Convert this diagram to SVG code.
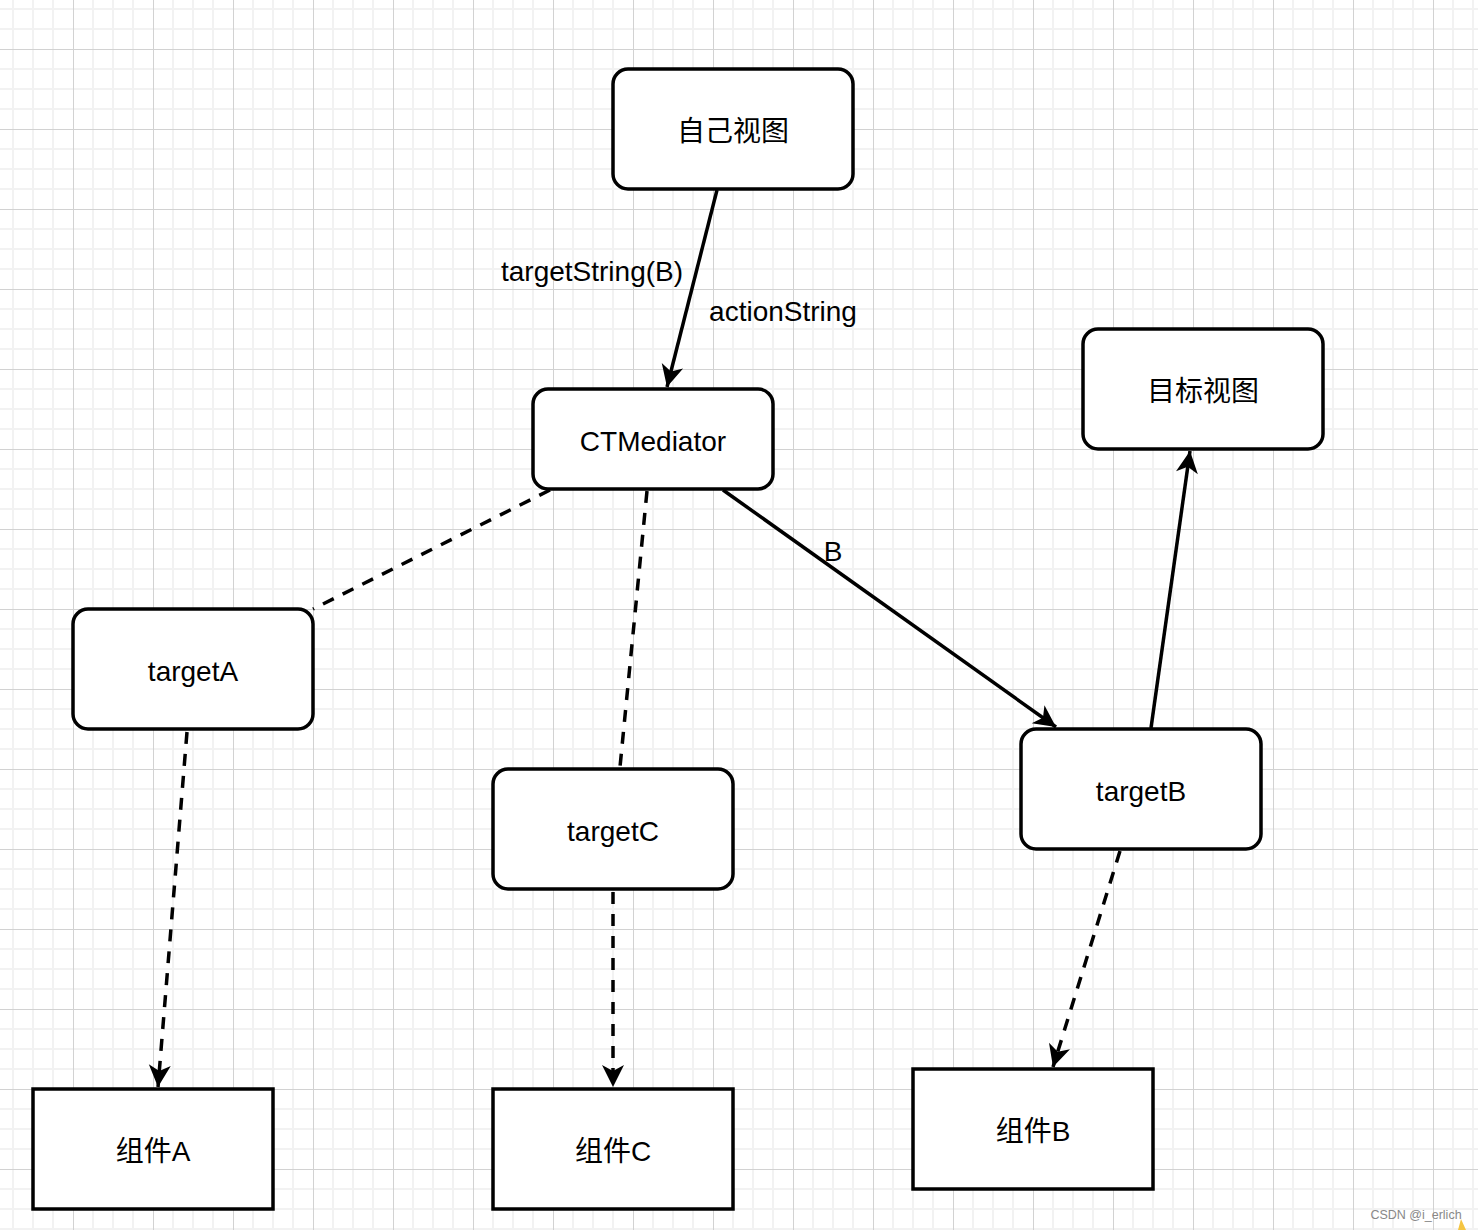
<svg xmlns="http://www.w3.org/2000/svg" width="1478" height="1230" viewBox="0 0 1478 1230">
<style>
.box{fill:#fff;stroke:#000;stroke-width:3.5}
.t{font-family:"Liberation Sans","Noto Sans CJK SC",sans-serif;font-size:28px;fill:#000;text-anchor:middle}
.e{fill:none;stroke:#000;stroke-width:3.5}
.d{stroke-dasharray:12 10}
</style>
<defs>
<pattern id="grid" patternUnits="userSpaceOnUse" x="73" y="49" width="80" height="80">
<path d="M20,0V80M40,0V80M60,0V80M0,20H80M0,40H80M0,60H80" stroke="#f2f2f2" stroke-width="2" fill="none"/>
<path d="M0.5,0V80M0,0.5H80" stroke="#d2d2d2" stroke-width="1" fill="none"/>
</pattern>
<marker id="arr" markerUnits="userSpaceOnUse" viewBox="-24 -13 26 26" refX="0" refY="0" markerWidth="26" markerHeight="26" orient="auto">
<path d="M0,0 L-22,-11 L-16,0 L-22,11 Z" fill="#000"/>
</marker>
</defs>
<rect width="1478" height="1230" fill="#fff"/>
<rect width="1478" height="1230" fill="url(#grid)"/>
<g id="connectors">
<path class="e" d="M717,190 L667,387" marker-end="url(#arr)"/>
<path class="e d" d="M550,490 L313,609"/>
<path class="e d" d="M647,491 L620,767"/>
<path class="e" d="M723,490 L1056,727" marker-end="url(#arr)"/>
<path class="e" d="M1151,728 L1190,451" marker-end="url(#arr)"/>
<path class="e d" d="M187,732 L158,1087" marker-end="url(#arr)"/>
<path class="e d" d="M613,892 L613,1087" marker-end="url(#arr)"/>
<path class="e d" d="M1120,851 L1053,1067" marker-end="url(#arr)"/>
<text class="t" x="592" y="281">targetString(B)</text>
<text class="t" x="783" y="321">actionString</text>
<text class="t" x="833" y="561">B</text>
</g>
<g id="node-self"><rect class="box" x="613" y="69" width="240" height="120" rx="15"/><text class="t" x="733" y="141">自己视图</text></g>
<g id="node-ctmediator"><rect class="box" x="533" y="389" width="240" height="100" rx="15"/><text class="t" x="653" y="451">CTMediator</text></g>
<g id="node-target-view"><rect class="box" x="1083" y="329" width="240" height="120" rx="15"/><text class="t" x="1203" y="401">目标视图</text></g>
<g id="node-targetA"><rect class="box" x="73" y="609" width="240" height="120" rx="15"/><text class="t" x="193" y="681">targetA</text></g>
<g id="node-targetC"><rect class="box" x="493" y="769" width="240" height="120" rx="15"/><text class="t" x="613" y="841">targetC</text></g>
<g id="node-targetB"><rect class="box" x="1021" y="729" width="240" height="120" rx="15"/><text class="t" x="1141" y="801">targetB</text></g>
<g id="node-compA"><rect class="box" x="33" y="1089" width="240" height="120"/><text class="t" x="153" y="1161">组件A</text></g>
<g id="node-compC"><rect class="box" x="493" y="1089" width="240" height="120"/><text class="t" x="613" y="1161">组件C</text></g>
<g id="node-compB"><rect class="box" x="913" y="1069" width="240" height="120"/><text class="t" x="1033" y="1141">组件B</text></g>
<text x="1416" y="1219" font-family="Liberation Sans,sans-serif" font-size="12.5" fill="#888" text-anchor="middle">CSDN @i_erlich</text>
<path d="M1458,1230 L1461,1219 L1466,1230 Z" fill="#f5c542"/>
</svg>
